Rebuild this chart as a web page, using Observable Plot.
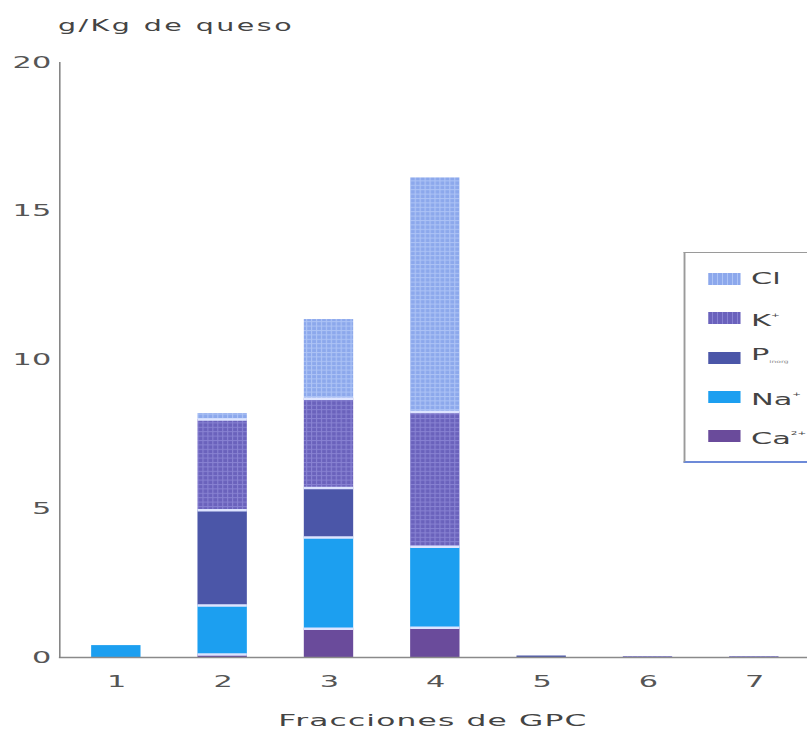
<!DOCTYPE html>
<html>
<head>
<meta charset="utf-8">
<script src="https://cdn.jsdelivr.net/npm/d3@7"></script>
<script src="https://cdn.jsdelivr.net/npm/@observablehq/plot@0.6"></script>
<style>
  html, body { margin: 0; padding: 0; background: #fff; overflow: hidden; width: 807px; height: 730px; }
  #wrap { position: relative; width: 425px; height: 730px; transform: scaleX(1.8988); transform-origin: 0 0; font-family: "DejaVu Sans", sans-serif; }
  #title { position: absolute; left: 30.5px; top: 19px; font-size: 15px; line-height: 15px; color: #444; letter-spacing: 1.3px; white-space: nowrap; }
  #xtitle { position: absolute; left: 31px; width: 394px; top: 713px; font-size: 16.5px; line-height: 16.5px; color: #444; letter-spacing: 0.6px; text-align: center; white-space: nowrap; }
  #legend { position: absolute; left: 360px; top: 252px; width: 90px; height: 208px; border: 1px solid #9a9a9a; border-bottom: 2px solid #6d8ad8; background: #fff; }
  .item { position: absolute; left: 11.5px; height: 14px; display: flex; align-items: center; white-space: nowrap; }
  .sw { width: 17.5px; height: 12px; margin-right: 5.5px; }
  .lab { font-size: 16px; color: #444; line-height: 16px; }
  .lab sup { font-size: 5.5px; vertical-align: 9px; }
  .lab sub { font-size: 4px; vertical-align: -3px; color: #888; }
</style>
</head>
<body>
<div id="wrap">
  <div id="title">g/Kg de queso</div>
  <div id="chart"></div>
  <div id="xtitle">Fracciones de GPC</div>
  <div id="legend"></div>
</div>
<script>
// ---- data ----
const fractions = ["1", "2", "3", "4", "5", "6", "7"];
const ions = ["Ca", "Na", "P", "K", "Cl"];            // bottom -> top
const Ca = [0, 0.1, 0.97, 1.0, 0, 0, 0];
const Na = [0.4, 1.65, 3.06, 2.72, 0, 0, 0];
const P  = [0, 3.2, 1.67, 0, 0.05, 0, 0];
const K  = [0, 3.05, 3.0, 4.53, 0, 0.03, 0.03];
const Cl = [0, 0.2, 2.66, 7.87, 0, 0, 0];
const yTicks = [0, 5, 10, 15, 20];
const legendLabels = ["Cl", "K<sup>+</sup>", "P<sub>inorg</sub>", "Na<sup>+</sup>", "Ca<sup>2+</sup>"];
const legendIons = ["Cl", "K", "P", "Na", "Ca"];

const series = {Ca, Na, P, K, Cl};
const fills = {Ca: "#6a4b9b", Na: "#1c9ff0", P: "#4b56a8", K: "url(#pK)", Cl: "url(#pCl)"};

const rows = [];
fractions.forEach((f, i) => {
  let base = 0;
  ions.forEach(ion => {
    const v = series[ion][i];
    rows.push({frac: f, ion, value: v, base});
    base += v;
  });
});

const stackOpts = {x: "frac", y: "value", z: "ion", order: ions};

const svg = Plot.plot({
  width: 425,
  height: 730,
  marginTop: 62,
  marginBottom: 73,
  marginLeft: 31,
  marginRight: 0,
  style: {fontFamily: "DejaVu Sans, sans-serif", fontSize: "16px", color: "#555", background: "transparent", overflow: "visible"},
  x: {domain: fractions, range: [31, 426.3], paddingInner: 0.535, paddingOuter: 0.262, align: 0.5},
  y: {domain: [0, 20]},
  color: {type: "identity"},
  opacity: {type: "identity"},
  marks: [
    Plot.barY(rows, Plot.stackY({...stackOpts, fill: d => fills[d.ion]})),
    Plot.tickY(rows, Plot.stackY1({...stackOpts, stroke: "#dde4ff", strokeWidth: 2.5,
      strokeOpacity: d => (d.base > 0 && d.value > 0) ? 1 : 0})),
    Plot.ruleY([0], {stroke: "#8a8a8a", strokeWidth: 1.5}),
    Plot.frame({anchor: "left", stroke: "#808080", strokeWidth: 0.8}),
    Plot.axisY({ticks: yTicks, tickSize: 0, tickPadding: 4.5, label: null, fill: "#555"}),
    Plot.axisX({tickSize: 0, tickPadding: 18, label: null, fill: "#555"})
  ]
});

// grid patterns for the hatched series
const defs = d3.select(svg).insert("defs", ":first-child");
function grid(id, base, line) {
  const p = defs.append("pattern").attr("id", id).attr("patternUnits", "userSpaceOnUse")
    .attr("width", 2.6).attr("height", 4.4);
  p.append("rect").attr("width", 2.6).attr("height", 4.4).attr("fill", base);
  p.append("rect").attr("width", 0.6).attr("height", 4.4).attr("fill", line);
  p.append("rect").attr("width", 2.6).attr("height", 1).attr("fill", line);
}
grid("pCl", "#8ca8ec", "#adc3f5");
grid("pK", "#6a62bc", "#8882d2");

document.getElementById("chart").appendChild(svg);

// legend
const lg = document.getElementById("legend");
const tops = [19, 58, 98, 137, 176];
legendIons.forEach((ion, i) => {
  const it = document.createElement("div");
  it.className = "item";
  it.style.top = tops[i] + "px";
  const sw = document.createElement("div");
  sw.className = "sw";
  if (ion === "Cl") sw.style.background = "repeating-linear-gradient(90deg, #8ca8ec 0 2px, #adc3f5 2px 2.6px)";
  else if (ion === "K") sw.style.background = "repeating-linear-gradient(90deg, #6a62bc 0 2px, #8882d2 2px 2.6px)";
  else sw.style.background = fills[ion];
  const lab = document.createElement("span");
  lab.className = "lab";
  lab.innerHTML = legendLabels[i];
  it.appendChild(sw);
  it.appendChild(lab);
  lg.appendChild(it);
});
</script>
</body>
</html>
